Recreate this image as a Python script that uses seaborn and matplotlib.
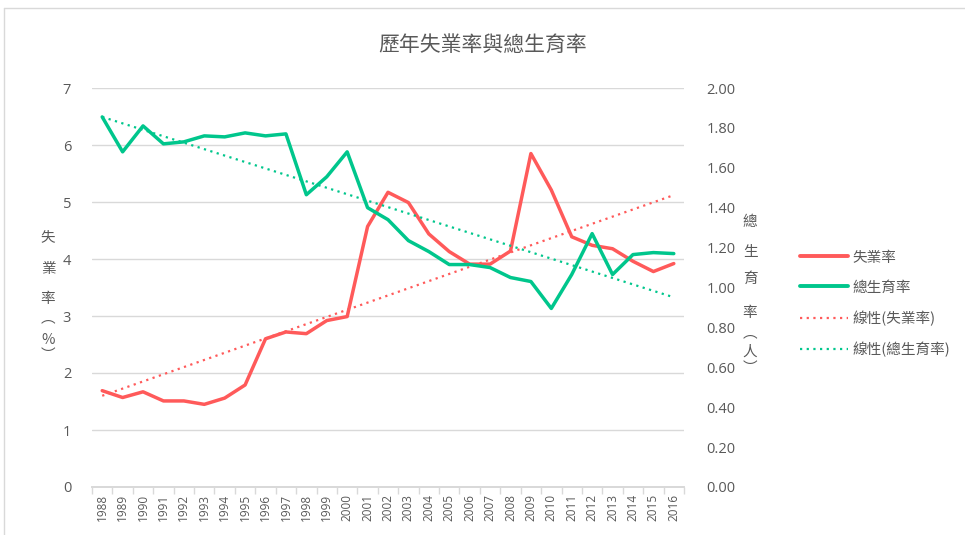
import numpy as np
import pandas as pd
import seaborn as sns
from matplotlib import pyplot as plt
from matplotlib.lines import Line2D

years = list(range(1988, 2017))
unemployment = [1.69, 1.57, 1.67, 1.51, 1.51, 1.45, 1.56, 1.79, 2.60, 2.72,
                2.69, 2.92, 2.99, 4.57, 5.17, 4.99, 4.44, 4.13, 3.91, 3.91,
                4.14, 5.85, 5.21, 4.39, 4.24, 4.18, 3.96, 3.78, 3.92]
fertility = [1.855, 1.680, 1.810, 1.720, 1.730, 1.760, 1.755, 1.775, 1.760, 1.770,
             1.465, 1.555, 1.680, 1.400, 1.340, 1.235, 1.180, 1.115, 1.115, 1.100,
             1.050, 1.030, 0.895, 1.065, 1.270, 1.065, 1.165, 1.175, 1.170]
left_ticks = [0, 1, 2, 3, 4, 5, 6, 7]
right_ticks = [0.0, 0.2, 0.4, 0.6, 0.8, 1.0, 1.2, 1.4, 1.6, 1.8, 2.0]
left_label = ['失', '業', '率', '︵', '%', '︶']
right_label = ['總', '生', '育', '率', '︵', '人', '︶']

RED = '#FF5A5A'
GREEN = '#00C68C'
TXT = '#595959'
GRID = '#D9D9D9'

sns.set_theme(style='white')
plt.rcParams['font.family'] = ['Open Sans', 'Noto Sans CJK TC', 'DejaVu Sans']
cjk = ['Noto Sans CJK TC', 'DejaVu Sans']

df = pd.DataFrame({'year': years, 'unemp': unemployment, 'tfr': fertility})
# linear trend lines, like Excel's 線性 trendline
df['unemp_fit'] = np.polyval(np.polyfit(df['year'], df['unemp'], 1), df['year'])
df['tfr_fit'] = np.polyval(np.polyfit(df['year'], df['tfr'], 1), df['year'])

fig = plt.figure(figsize=(9.65, 5.35), dpi=100)
ax = fig.add_axes([92 / 965, 48 / 535, 592 / 965, 399 / 535])
ax2 = ax.twinx()

sns.lineplot(data=df, x='year', y='unemp', ax=ax, color=RED, lw=2.5, zorder=4)
sns.lineplot(data=df, x='year', y='unemp_fit', ax=ax, color=RED, lw=1.6,
             linestyle=(0, (1, 2)), zorder=3)
sns.lineplot(data=df, x='year', y='tfr', ax=ax2, color=GREEN, lw=2.5, zorder=4)
sns.lineplot(data=df, x='year', y='tfr_fit', ax=ax2, color=GREEN, lw=1.6,
             linestyle=(0, (1, 2)), zorder=3)

ax.set_xlim(years[0] - 0.5, years[-1] + 0.5)
ax.set_ylim(0, 7)
ax2.set_ylim(0, 2)
ax.set_yticks(left_ticks)
ax.set_yticklabels([str(t) for t in left_ticks])
ax2.set_yticks(right_ticks)
ax2.set_yticklabels([f'{t:.2f}' for t in right_ticks])
ax.set_xticks(years)
ax.set_xticklabels([str(y) for y in years], rotation=90)
ax.set_xticks(np.arange(years[0] - 0.5, years[-1] + 1), minor=True)

ax.yaxis.grid(True, color=GRID, lw=1)
ax.set_axisbelow(True)
for a in (ax, ax2):
    for s in ('top', 'left', 'right'):
        a.spines[s].set_visible(False)
    a.spines['bottom'].set_color(GRID)
    a.set_xlabel('')
    a.set_ylabel('')

ax.tick_params(axis='x', which='major', length=0, pad=5, labelsize=8.5, labelcolor=TXT)
ax.tick_params(axis='x', which='minor', length=5, color=GRID, width=1, bottom=True)
ax.tick_params(axis='y', length=0, pad=15, labelsize=10.5, labelcolor=TXT)
ax2.tick_params(axis='y', length=0, pad=16, labelsize=10.5, labelcolor=TXT)

fig.text(0.5, 1 - 45 / 535, '歷年失業率與總生育率', ha='center', va='center',
         fontsize=15, color=TXT, family=cjk, fontweight='light')

# stacked vertical axis titles, one character per line as in Excel
for ch, py in zip(left_label, [237, 269, 299, 318, 340, 355]):
    fig.text(48 / 965, 1 - py / 535, ch, ha='center', va='center',
             fontsize=10.5, color=TXT, family=cjk)
for ch, py in zip(right_label, [222, 252, 279, 313, 333, 352, 368]):
    fig.text(750 / 965, 1 - py / 535, ch, ha='center', va='center',
             fontsize=10.5, color=TXT, family=cjk)

handles = [Line2D([], [], color=RED, lw=2.8),
           Line2D([], [], color=GREEN, lw=2.8),
           Line2D([], [], color=RED, lw=1.6, linestyle=(0, (1, 2))),
           Line2D([], [], color=GREEN, lw=1.6, linestyle=(0, (1, 2)))]
labels = ['失業率', '總生育率', '線性(失業率)', '線性(總生育率)']
leg = fig.legend(handles, labels, loc='center left', bbox_to_anchor=(787 / 965, 1 - 304 / 535),
                 frameon=False, handlelength=3.3, handletextpad=0.3, labelspacing=1.1,
                 prop={'family': cjk, 'size': 10.5})
for t in leg.get_texts():
    t.set_color(TXT)

# light chart border like the Excel chart area
fig.add_artist(Line2D([4 / 965, 4 / 965], [0, 1 - 8 / 535], color=GRID, lw=1))
fig.add_artist(Line2D([4 / 965, 1], [1 - 8 / 535, 1 - 8 / 535], color=GRID, lw=1))

fig.savefig('out.png', dpi=100, facecolor='white')
